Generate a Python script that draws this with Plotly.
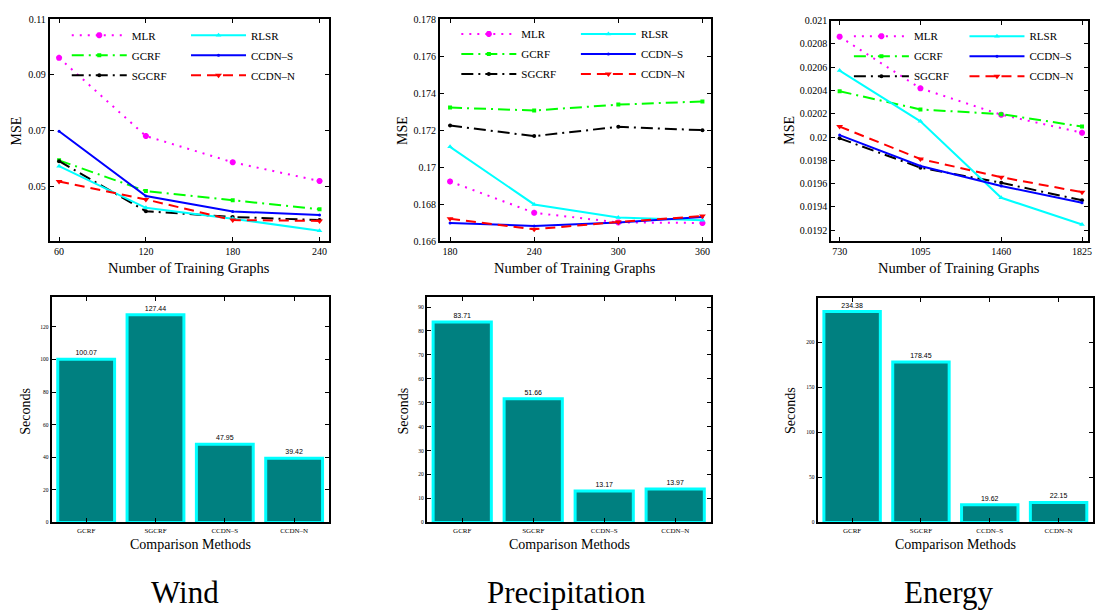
import plotly.graph_objects as go

# ---------------- data ----------------
methods = ["MLR", "GCRF", "SGCRF", "RLSR", "CCDN–S", "CCDN–N"]

wind_x = [60, 120, 180, 240]
wind_mse = {
    "MLR":    [0.0961, 0.0681, 0.0587, 0.0520],
    "GCRF":   [0.0594, 0.0484, 0.0451, 0.0419],
    "SGCRF":  [0.0591, 0.0412, 0.0391, 0.0380],
    "RLSR":   [0.0573, 0.0424, 0.0385, 0.0342],
    "CCDN–S": [0.0698, 0.0466, 0.0411, 0.0398],
    "CCDN–N": [0.0518, 0.0454, 0.0380, 0.0377],
}

prec_x = [180, 240, 300, 360]
prec_mse = {
    "MLR":    [0.16923, 0.16754, 0.16702, 0.16699],
    "GCRF":   [0.17322, 0.17306, 0.17338, 0.17355],
    "SGCRF":  [0.17225, 0.17168, 0.17218, 0.17200],
    "RLSR":   [0.17110, 0.16799, 0.16729, 0.16713],
    "CCDN–S": [0.16699, 0.16683, 0.16702, 0.16731],
    "CCDN–N": [0.16722, 0.16665, 0.16704, 0.16736],
}

energy_x = [730, 1095, 1460, 1825]
energy_mse = {
    "MLR":    [0.020863, 0.020419, 0.020192, 0.020037],
    "GCRF":   [0.020394, 0.020237, 0.020197, 0.020090],
    "SGCRF":  [0.019989, 0.019737, 0.019607, 0.019456],
    "RLSR":   [0.020571, 0.020135, 0.019478, 0.019248],
    "CCDN–S": [0.020017, 0.019751, 0.019579, 0.019436],
    "CCDN–N": [0.020090, 0.019812, 0.019655, 0.019526],
}

bar_methods = ["GCRF", "SGCRF", "CCDN–S", "CCDN–N"]
wind_sec = [100.07, 127.44, 47.95, 39.42]
prec_sec = [83.71, 51.66, 13.17, 13.97]
energy_sec = [234.38, 178.45, 19.62, 22.15]

dataset_names = ["Wind", "Precipitation", "Energy"]

wind_yticks = [0.05, 0.07, 0.09, 0.11]
wind_yticktext = ["0.05", "0.07", "0.09", "0.11"]
prec_yticks = [0.166, 0.168, 0.170, 0.172, 0.174, 0.176, 0.178]
prec_yticktext = ["0.166", "0.168", "0.17", "0.172", "0.174", "0.176", "0.178"]
energy_yticks = [0.0192, 0.0194, 0.0196, 0.0198, 0.0200, 0.0202, 0.0204, 0.0206, 0.0208, 0.0210]
energy_yticktext = ["0.0192", "0.0194", "0.0196", "0.0198", "0.02", "0.0202",
                    "0.0204", "0.0206", "0.0208", "0.021"]
wind_sec_ticks = [0, 20, 40, 60, 80, 100, 120]
prec_sec_ticks = [0, 10, 20, 30, 40, 50, 60, 70, 80, 90]
energy_sec_ticks = [0, 50, 100, 150, 200]

# ---------------- styles ----------------
W, H = 1098, 613
SERIF = "'Liberation Serif', 'DejaVu Serif', 'Times New Roman', Times, serif"
SANS = "'Liberation Sans', Arial, sans-serif"

STYLE = {
    "MLR":    dict(color="#FF00FF", dash="2px,6px", symbol="asterisk-open", size=5),
    "GCRF":   dict(color="#00FF00", dash="12px,5px,2px,5px", symbol="square", size=4),
    "SGCRF":  dict(color="#000000", dash="12px,5px,2px,5px", symbol="circle", size=4),
    "RLSR":   dict(color="#00FFFF", dash="solid", symbol="triangle-up", size=5),
    "CCDN–S": dict(color="#0000FF", dash="solid", symbol="circle", size=3),
    "CCDN–N": dict(color="#FF0000", dash="10px,6px", symbol="triangle-down", size=6),
}
left_col = ["MLR", "GCRF", "SGCRF"]


def px_x(p):
    return p / W


def px_y(p):
    return 1 - p / H


# subplot boxes in pixels (left, right, top, bottom)
top_boxes = [(50, 330, 13.3, 240), (441.7, 713.3, 13.3, 240), (834.3, 1091.7, 15, 240)]
bot_boxes = [(51.7, 330, 297.3, 526.7), (428.3, 713.3, 297.3, 526.7), (820.7, 1097, 298.3, 526.7)]

top_xranges = [[53.6, 246.4], [172.9, 365.9], [692.2, 1850.7]]
top_yranges = [[0.0304, 0.11], [0.166, 0.178], [0.019104, 0.021]]
bot_yranges = [[0, 138], [0, 94], [0, 249]]

top_data = [(wind_x, wind_mse, wind_yticks, wind_yticktext),
            (prec_x, prec_mse, prec_yticks, prec_yticktext),
            (energy_x, energy_mse, energy_yticks, energy_yticktext)]
bot_data = [(wind_sec, wind_sec_ticks), (prec_sec, prec_sec_ticks), (energy_sec, energy_sec_ticks)]

# legend positions: (left col sample start px, right col sample start px, first row center px)
legend_pos = [(72, 191.7, 35), (463, 583, 33.7), (857, 973, 36)]

fig = go.Figure()
layout = dict(
    width=W, height=H,
    margin=dict(l=0, r=0, t=0, b=0),
    paper_bgcolor="white", plot_bgcolor="white",
    font=dict(family=SERIF, color="black"),
    showlegend=True,
    annotations=[],
)

axis_common = dict(
    showline=True, linecolor="black", linewidth=2, mirror="ticks",
    ticks="inside", ticklen=4, tickwidth=1, tickcolor="black",
    showgrid=False, zeroline=False,
)

for i in range(3):
    xs, mse, yt, ytt = top_data[i]
    xa = f"x{2*i+1}" if i > 0 else "x"
    ya = f"y{2*i+1}" if i > 0 else "y"
    lg_left = f"legend{2*i+1}" if i > 0 else "legend"
    lg_right = f"legend{2*i+2}"
    for m in methods:
        st = STYLE[m]
        mk = dict(symbol=st["symbol"], size=st["size"], color=st["color"])
        if st["symbol"].startswith("asterisk"):
            mk["line"] = dict(color=st["color"], width=2)
        fig.add_trace(go.Scatter(
            x=xs, y=mse[m], name=m, mode="lines+markers",
            line=dict(color=st["color"], dash=st["dash"], width=2),
            marker=mk, xaxis=xa, yaxis=ya,
            legend=lg_left if m in left_col else lg_right,
            legendgroup=f"{i}-{m}",
        ))
    l, r, t, b = top_boxes[i]
    layout["xaxis" + (str(2*i+1) if i > 0 else "")] = dict(
        axis_common, domain=[px_x(l), px_x(r)], range=top_xranges[i],
        tickvals=xs, ticktext=[str(v) for v in xs],
        tickfont=dict(size=10, family=SERIF), anchor=ya,
    )
    layout["yaxis" + (str(2*i+1) if i > 0 else "")] = dict(
        axis_common, domain=[px_y(b), px_y(t)], range=top_yranges[i],
        tickvals=yt, ticktext=ytt,
        tickfont=dict(size=10, family=SERIF), anchor=xa,
    )
    lx, rx, ry = legend_pos[i]
    for name, sx in ((lg_left, lx), (lg_right, rx)):
        layout[name] = dict(
            x=px_x(sx - 5), y=px_y(ry - 20), xanchor="left", yanchor="top",
            orientation="v", bgcolor="rgba(0,0,0,0)", borderwidth=0,
            font=dict(size=11, family=SERIF), itemwidth=55,
            tracegroupgap=1, itemclick=False, itemdoubleclick=False,
        )
    # axis titles
    layout["annotations"].append(dict(
        text="Number of Training Graphs", xref="paper", yref="paper",
        x=px_x((l + r) / 2), y=px_y(267), showarrow=False,
        font=dict(size=14.5, family=SERIF), xanchor="center", yanchor="middle",
    ))
    layout["annotations"].append(dict(
        text="MSE", xref="paper", yref="paper", textangle=-90,
        x=px_x([17, 404, 792][i]), y=px_y(127), showarrow=False,
        font=dict(size=14, family=SERIF), xanchor="center", yanchor="middle",
    ))

for i in range(3):
    secs, ticks = bot_data[i]
    xa = f"x{2*i+2}"
    ya = f"y{2*i+2}"
    fig.add_trace(go.Bar(
        x=bar_methods, y=secs, width=0.82,
        marker=dict(color="#008080", line=dict(color="#00FFFF", width=3)),
        text=[f"{v:.2f}" for v in secs], textposition="outside",
        textfont=dict(size=7, family=SANS, color="black"),
        cliponaxis=False, showlegend=False, xaxis=xa, yaxis=ya,
    ))
    l, r, t, b = bot_boxes[i]
    layout[f"xaxis{2*i+2}"] = dict(
        axis_common, domain=[px_x(l), px_x(r)], range=[-0.5, 3.5],
        type="category", tickfont=dict(size=7, family=SERIF), anchor=ya,
    )
    layout[f"yaxis{2*i+2}"] = dict(
        axis_common, domain=[px_y(b), px_y(t)], range=bot_yranges[i],
        tickvals=ticks, tickfont=dict(size=5.5, family=SERIF), anchor=xa,
    )
    layout["annotations"].append(dict(
        text="Comparison Methods", xref="paper", yref="paper",
        x=px_x([191, 572, 959][i]), y=px_y(549), showarrow=False,
        font=dict(size=14, family=SERIF), xanchor="center", yanchor="middle",
    ))
    layout["annotations"].append(dict(
        text="Seconds", xref="paper", yref="paper", textangle=-90,
        x=px_x([26, 405, 794][i]), y=px_y(413), showarrow=False,
        font=dict(size=14, family=SERIF), xanchor="center", yanchor="middle",
    ))
    layout["annotations"].append(dict(
        text=dataset_names[i], xref="paper", yref="paper",
        x=px_x([186, 569, 952][i]), y=px_y(598), showarrow=False,
        font=dict(size=31, family=SERIF), xanchor="center", yanchor="middle",
    ))

fig.update_layout(**layout)
fig.write_html("out.html")
